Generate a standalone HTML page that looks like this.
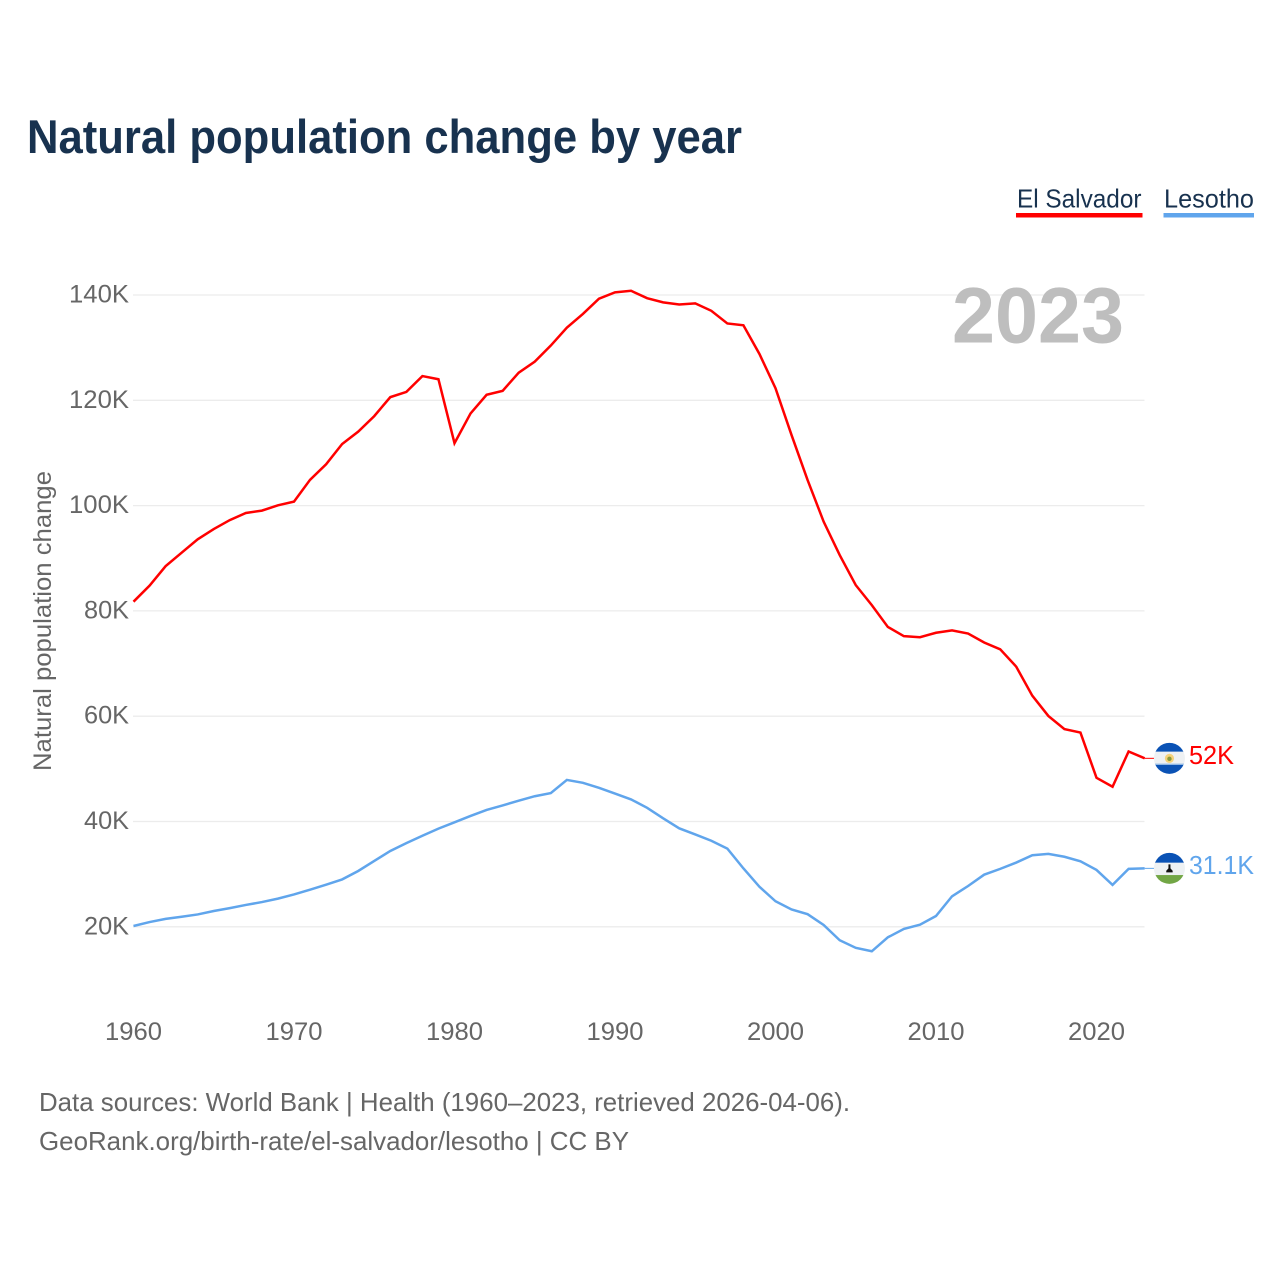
<!DOCTYPE html>
<html lang="en">
<head>
<meta charset="utf-8">
<title>Natural population change by year</title>
<style>
html,body{margin:0;padding:0;background:#fff;}
svg{display:block;}
text{font-family:"Liberation Sans",sans-serif;}
</style>
</head>
<body>
<svg id="chart" xmlns="http://www.w3.org/2000/svg" width="1280" height="1280" viewBox="0 0 1280 1280">
  <rect x="0" y="0" width="1280" height="1280" fill="#ffffff"/>
  <text x="27" y="153" font-size="47" font-weight="700" fill="#18324f" textLength="715" lengthAdjust="spacingAndGlyphs">Natural population change by year</text>

  <g>
    <text x="1017" y="207.5" font-size="26" fill="#18324f" textLength="124.5" lengthAdjust="spacingAndGlyphs">El Salvador</text>
    <rect x="1016" y="213" width="126.5" height="4.5" fill="#ff0000"/>
  </g>
  <g>
    <text x="1164" y="207.5" font-size="26" fill="#18324f" textLength="90" lengthAdjust="spacingAndGlyphs">Lesotho</text>
    <rect x="1163.5" y="213" width="90.5" height="4.5" fill="#60a5ec"/>
  </g>

  <g id="grid"></g>
  <text x="952" y="342.5" font-size="79" font-weight="700" fill="#bebebe" textLength="172" lengthAdjust="spacingAndGlyphs">2023</text>
  <g id="yticks"></g>
  <g id="xticks"></g>
  <text transform="translate(51,621) rotate(-90)" text-anchor="middle" font-size="25" fill="#666666" textLength="300" lengthAdjust="spacingAndGlyphs">Natural population change</text>

  <g id="series"></g>

  <defs>
    <clipPath id="clip-sv"><circle cx="0" cy="0" r="15.5"/></clipPath>
    <clipPath id="clip-ls"><circle cx="0" cy="0" r="15.5"/></clipPath>
  </defs>
  <g id="flag-sv">
    <g clip-path="url(#clip-sv)">
      <rect x="-16" y="-16" width="32" height="32" fill="#eef1f3"/>
      <rect x="-16" y="-16" width="32" height="9.3" fill="#0a52b5"/>
      <rect x="-16" y="6.5" width="32" height="9.5" fill="#0a52b5"/>
      <rect x="-16" y="5.3" width="32" height="1.2" fill="#8fb8e6"/>
    </g>
    <circle cx="0" cy="0" r="4.6" fill="#f5d27a"/>
    <circle cx="0" cy="0.5" r="2.2" fill="#8a9a3c"/>
  </g>
  <g id="flag-ls">
    <g clip-path="url(#clip-ls)">
      <rect x="-16" y="-16" width="32" height="32" fill="#eef1f3"/>
      <rect x="-16" y="-16" width="32" height="10.3" fill="#0a52b5"/>
      <rect x="-16" y="6.7" width="32" height="9.5" fill="#72a645"/>
    </g>
    <path d="M-1 -4 H1 V0 L3.2 2.4 V4 H-3.2 V2.4 L-1 0 Z" fill="#111111"/>
  </g>

  <text id="value-sv" font-size="26" fill="#ff0000"></text>
  <text id="value-ls" font-size="26" fill="#60a5ec"></text>

  <text x="39" y="1111" font-size="26" fill="#666666" textLength="811" lengthAdjust="spacingAndGlyphs">Data sources: World Bank | Health (1960–2023, retrieved 2026-04-06).</text>
  <a><text x="39" y="1150" font-size="26" fill="#666666" textLength="590" lengthAdjust="spacingAndGlyphs">GeoRank.org/birth-rate/el-salvador/lesotho | CC BY</text></a>
</svg>
<script>
const firstYear = 1960;
const elSalvador = [81.75,84.8,88.5,91.05,93.6,95.55,97.25,98.6,99.05,100.05,100.75,104.9,107.85,111.7,114.05,117,120.6,121.6,124.6,124,111.85,117.5,121.05,121.8,125.25,127.35,130.4,133.8,136.4,139.3,140.5,140.8,139.4,138.6,138.2,138.4,137,134.6,134.25,128.8,122.3,113.4,104.85,96.95,90.6,84.9,81.1,76.95,75.2,75,75.85,76.3,75.7,74,72.7,69.4,63.9,60.05,57.55,56.9,48.3,46.6,53.3,52];
const lesotho = [20.15,20.9,21.5,21.9,22.35,23,23.55,24.15,24.7,25.35,26.15,27.05,28,29,30.6,32.5,34.4,35.9,37.3,38.65,39.85,41.05,42.2,43.05,43.95,44.8,45.4,47.9,47.35,46.4,45.3,44.2,42.6,40.6,38.7,37.55,36.35,34.85,31.1,27.6,24.85,23.3,22.4,20.35,17.45,16,15.35,18,19.6,20.4,22.05,25.8,27.75,29.9,31,32.2,33.6,33.85,33.3,32.45,30.8,27.95,31,31.1];
const yTicks = [20,40,60,80,100,120,140];
const xTicks = [1960,1970,1980,1990,2000,2010,2020];
const yTickLabels = ["20K","40K","60K","80K","100K","120K","140K"];
const xTickLabels = ["1960","1970","1980","1990","2000","2010","2020"];
const endLabels = ["52K","31.1K"];

const NS = "http://www.w3.org/2000/svg";
function xScale(year){ return 133.5 + (year - 1960) * 16.05; }
function yScale(v){ return 926.8 - (v - 20) * 5.265; }

const grid = document.getElementById("grid");
const yGroup = document.getElementById("yticks");
const xGroup = document.getElementById("xticks");
const seriesGroup = document.getElementById("series");

yTicks.forEach(function(t, i){
  const line = document.createElementNS(NS, "line");
  
  
  line.setAttribute("x1", 133);
  line.setAttribute("x2", 1144.5);
  line.setAttribute("y1", yScale(t));
  line.setAttribute("y2", yScale(t));
  line.setAttribute("stroke", "#ececec");
  line.setAttribute("stroke-width", "1.3");
  grid.appendChild(line);

  const label = document.createElementNS(NS, "text");
  
  
  label.setAttribute("x", 129);
  label.setAttribute("y", yScale(t) + 7.5);
  label.setAttribute("text-anchor", "end");
  label.setAttribute("font-size", "25");
  label.setAttribute("fill", "#666666");
  label.setAttribute("textLength", yTickLabels[i].length === 4 ? 60 : 45);
  label.setAttribute("lengthAdjust", "spacingAndGlyphs");
  label.textContent = yTickLabels[i];
  yGroup.appendChild(label);
});

xTicks.forEach(function(t, i){
  const label = document.createElementNS(NS, "text");
  
  
  label.setAttribute("x", xScale(t));
  label.setAttribute("y", 1040);
  label.setAttribute("text-anchor", "middle");
  label.setAttribute("font-size", "25");
  label.setAttribute("fill", "#666666");
  label.setAttribute("textLength", 57);
  label.setAttribute("lengthAdjust", "spacingAndGlyphs");
  label.textContent = xTickLabels[i];
  xGroup.appendChild(label);
});

function pointsFor(values){
  return values.map(function(v, i){
    return xScale(firstYear + i).toFixed(2) + "," + yScale(v).toFixed(2);
  }).join(" ");
}

const lineLs = document.createElementNS(NS, "polyline");


lineLs.setAttribute("points", pointsFor(lesotho));
lineLs.setAttribute("fill", "none");
lineLs.setAttribute("stroke", "#60a5ec");
lineLs.setAttribute("stroke-width", "2.5");
lineLs.setAttribute("stroke-linejoin", "miter");
seriesGroup.appendChild(lineLs);

const lineSv = document.createElementNS(NS, "polyline");


lineSv.setAttribute("points", pointsFor(elSalvador));
lineSv.setAttribute("fill", "none");
lineSv.setAttribute("stroke", "#ff0000");
lineSv.setAttribute("stroke-width", "2.5");
lineSv.setAttribute("stroke-linejoin", "miter");
seriesGroup.appendChild(lineSv);

const lastYear = firstYear + elSalvador.length - 1;
const endX = xScale(lastYear);
const flagX = endX + 24.8;

const svY = yScale(elSalvador[elSalvador.length - 1]);
const lsY = yScale(lesotho[lesotho.length - 1]);

const leaderSv = document.createElementNS(NS, "line");


leaderSv.setAttribute("x1", endX);
leaderSv.setAttribute("x2", flagX - 15);
leaderSv.setAttribute("y1", svY);
leaderSv.setAttribute("y2", svY);
leaderSv.setAttribute("stroke", "#ff0000");
leaderSv.setAttribute("stroke-width", "1");
seriesGroup.appendChild(leaderSv);

const leaderLs = document.createElementNS(NS, "line");


leaderLs.setAttribute("x1", endX);
leaderLs.setAttribute("x2", flagX - 15);
leaderLs.setAttribute("y1", lsY);
leaderLs.setAttribute("y2", lsY);
leaderLs.setAttribute("stroke", "#60a5ec");
leaderLs.setAttribute("stroke-width", "1");
seriesGroup.appendChild(leaderLs);

document.getElementById("flag-sv").setAttribute("transform", "translate(" + flagX + "," + svY + ")");
document.getElementById("flag-ls").setAttribute("transform", "translate(" + flagX + "," + lsY + ")");

const valueSv = document.getElementById("value-sv");
valueSv.setAttribute("x", flagX + 19.5);
valueSv.setAttribute("y", svY + 5.5);
valueSv.setAttribute("textLength", 45);
valueSv.setAttribute("lengthAdjust", "spacingAndGlyphs");
valueSv.textContent = endLabels[0];

const valueLs = document.getElementById("value-ls");
valueLs.setAttribute("x", flagX + 19.5);
valueLs.setAttribute("y", lsY + 5.5);
valueLs.setAttribute("textLength", 65);
valueLs.setAttribute("lengthAdjust", "spacingAndGlyphs");
valueLs.textContent = endLabels[1];
</script>
</body>
</html>
